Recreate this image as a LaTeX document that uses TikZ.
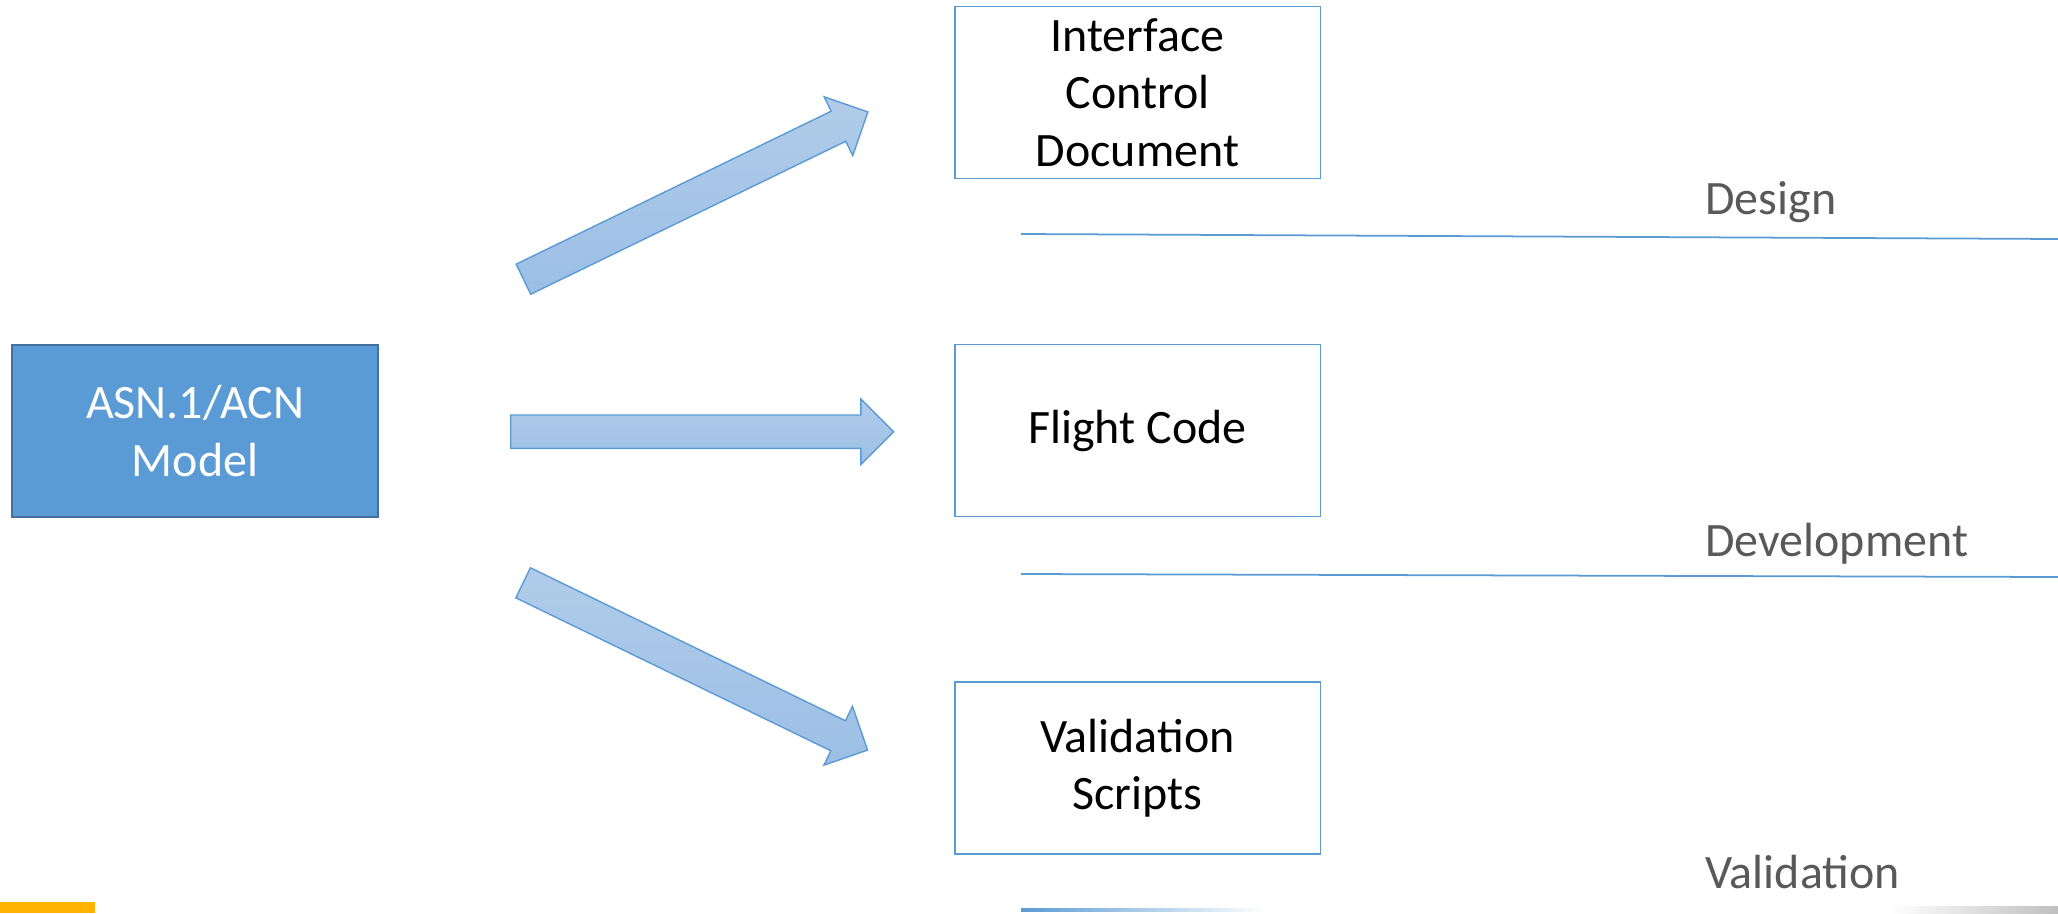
\documentclass[tikz,border=0pt]{standalone}
\usepackage{fontspec}
\setmainfont{Carlito}
\usetikzlibrary{shapes.arrows,positioning}
\definecolor{accent}{HTML}{5B9BD5}
\definecolor{accentdark}{HTML}{41719C}
\definecolor{arrowtop}{HTML}{B1CCEA}
\definecolor{arrowbot}{HTML}{9BBFE5}
\definecolor{labelgray}{HTML}{595959}
\definecolor{gold}{HTML}{FFB300}

\begin{document}
\begin{tikzpicture}[x=0.02cm,y=-0.02cm,font=\fontsize{27.3}{32.6}\selectfont,
  box/.style={draw=accent,line width=1.1pt,fill=white,minimum width=7.32cm,minimum height=3.44cm,align=center,inner sep=0pt},
  model/.style={box,draw=accentdark,fill=accent,text=white},
  flow/.style={single arrow,draw=accent,line width=0.8pt,top color=arrowtop,bottom color=arrowbot,
    inner xsep=0pt,inner ysep=0.32cm,single arrow head extend=0.32cm,minimum height=7.66cm,anchor=tail},
  phase/.style={draw=accent,line width=1pt},
  stage/.style={text=labelgray,anchor=base west,inner sep=0pt,font=\fontsize{27.3}{32}\selectfont}]
\useasboundingbox (0,0) rectangle (2058,913);
% source model and generated artefacts
\node[model] (asn) at (195,431) {ASN.1/ACN\\Model};
\node[box] (icd) at (1137.5,92.5) {Interface\\Control\\Document};
\node[box] (code) at (1137.5,430.5) {Flight Code};
\node[box] (scripts) at (1137.5,768) {Validation\\Scripts};
% block arrows fanning out (placed by their tails)
\foreach \x/\y/\ang in {522.8/279.5/25.9,510/431.7/0,522.5/582.5/-25.9}
  \node[flow,rotate=\ang] at (\x,\y) {};
% lifecycle phases
\draw[phase] (1021,234) -- (2058,239);
\draw[phase] (1021,574) -- (2058,577);
\node[stage] (design) at (1705,214) {Design};
\node[stage] (devel) at (1705,556.5) {Development};
\node[stage] (valid) at (1705,888.5) {Validation};
\shade[left color=accent,right color=white] (1021,908) rectangle (1266,911);
\shade[left color=white,right color=black!25] (1890,906) rectangle (2058,913);
\fill[gold] (0,902) rectangle (95,913);
\end{tikzpicture}
\end{document}
